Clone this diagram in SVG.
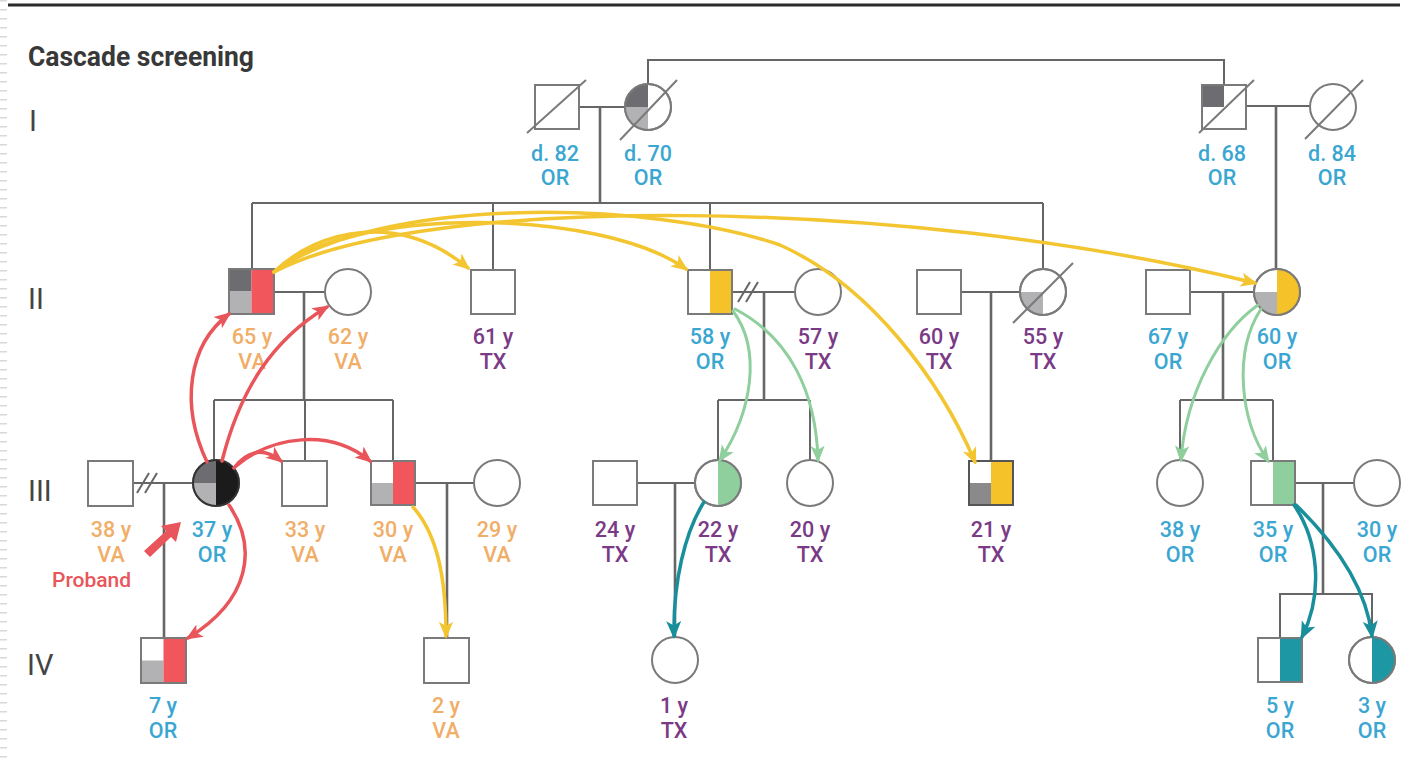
<svg xmlns="http://www.w3.org/2000/svg" width="1417" height="759" viewBox="0 0 1417 759">
  <style>
    .nd { fill: #fff; stroke: #7a7a7a; stroke-width: 2; }
    .ol { fill: none; stroke: #7a7a7a; stroke-width: 2; }
    .ln { fill: none; stroke: #666; stroke-width: 2; }
    .dl { fill: none; stroke: #666; stroke-width: 2.6; }
    .dk { fill: #6c6c71; }
    .lt { fill: #b2b2b4; }
    .md { fill: #8a8a8c; }
    .red { fill: #f0565c; }
    .yel { fill: #f5c22a; }
    .grn { fill: #8fcf9e; }
    .tea { fill: #1e97a5; }
    .blk { fill: #1b1b1b; }
    .lab { font-family: Roboto, "Liberation Sans", sans-serif; font-size: 21.5px; font-weight: 500; text-anchor: middle; }
    .or { fill: #3aa6d2; }
    .va { fill: #f0ae68; }
    .tx { fill: #7a3a86; }
    .gen { font-family: Roboto, "Liberation Sans", sans-serif; font-size: 29px; font-weight: 400; fill: #444; }
    .arr { fill: none; stroke-width: 3.5; stroke-linecap: round; }
    .ay { stroke: #f3c530; marker-end: url(#hy); }
    .ar { stroke: #e8555a; marker-end: url(#hr); }
    .ag { stroke: #8fcf9e; stroke-width: 3; marker-end: url(#hg); }
    .at { stroke: #1a8f9c; marker-end: url(#ht); }
  </style>
  <defs>
    <marker id="hy" viewBox="0 0 12 12" refX="10" refY="6" markerWidth="17" markerHeight="17" markerUnits="userSpaceOnUse" orient="auto"><path d="M0,1 L12,6 L0,11 L3,6 z" fill="#f3c530"/></marker>
    <marker id="hr" viewBox="0 0 12 12" refX="10" refY="6" markerWidth="17" markerHeight="17" markerUnits="userSpaceOnUse" orient="auto"><path d="M0,1 L12,6 L0,11 L3,6 z" fill="#e8555a"/></marker>
    <marker id="hg" viewBox="0 0 12 12" refX="10" refY="6" markerWidth="17" markerHeight="17" markerUnits="userSpaceOnUse" orient="auto"><path d="M0,1 L12,6 L0,11 L3,6 z" fill="#8fcf9e"/></marker>
    <marker id="ht" viewBox="0 0 12 12" refX="10" refY="6" markerWidth="18" markerHeight="18" markerUnits="userSpaceOnUse" orient="auto"><path d="M0,1 L12,6 L0,11 L3,6 z" fill="#1a8f9c"/></marker>
  </defs>

  <rect width="1417" height="759" fill="#fff"/>
  <!-- page edge and top rule -->
  <line x1="3.5" y1="0" x2="3.5" y2="759" stroke="#d8d8d8" stroke-width="7" stroke-dasharray="1.5 7.5"/>
  <line x1="8" y1="5" x2="1400" y2="5" stroke="#2a2a2a" stroke-width="3"/>

  <text x="28" y="66" font-family="Roboto, 'Liberation Sans', sans-serif" font-size="27" font-weight="700" fill="#383838" textLength="226" lengthAdjust="spacingAndGlyphs">Cascade screening</text>

  <!-- generation numerals -->
  <g id="generations">
    <text class="gen" x="29" y="131">I</text>
    <text class="gen" x="28" y="309">II</text>
    <text class="gen" x="28" y="501">III</text>
    <text class="gen" x="27" y="675">IV</text>
  </g>

  <!-- pedigree lines -->
  <g id="connectors">
    <!-- generation I -->
    <line class="ln" x1="579" y1="107" x2="625" y2="107"/>
    <line class="dl" x1="600" y1="107" x2="600" y2="203"/>
    <polyline class="ln" points="648,84 648,60 1224,60 1224,85"/>
    <line class="ln" x1="1246" y1="106" x2="1310" y2="106"/>
    <line class="dl" x1="1276" y1="106" x2="1276" y2="269"/>
    <!-- generation II sibship -->
    <line class="ln" x1="252" y1="203" x2="1043" y2="203"/>
    <line class="ln" x1="252" y1="203" x2="252" y2="269"/>
    <line class="ln" x1="493" y1="203" x2="493" y2="270"/>
    <line class="ln" x1="710" y1="203" x2="710" y2="270"/>
    <line class="ln" x1="1043" y1="203" x2="1043" y2="269"/>
    <!-- generation II couples -->
    <line class="ln" x1="274" y1="292" x2="325" y2="292"/>
    <line class="dl" x1="304" y1="292" x2="304" y2="400"/>
    <line class="ln" x1="732" y1="292" x2="795" y2="292"/>
    <line class="ln" x1="738" y1="302" x2="750" y2="282"/>
    <line class="ln" x1="746" y1="302" x2="758" y2="282"/>
    <line class="dl" x1="764" y1="292" x2="764" y2="400"/>
    <line class="ln" x1="961" y1="292" x2="1020" y2="292"/>
    <line class="dl" x1="991" y1="292" x2="991" y2="461"/>
    <line class="ln" x1="1190" y1="292" x2="1254" y2="292"/>
    <line class="dl" x1="1223" y1="292" x2="1223" y2="400"/>
    <!-- generation III sibships -->
    <line class="ln" x1="214" y1="400" x2="393" y2="400"/>
    <line class="ln" x1="214" y1="400" x2="214" y2="460"/>
    <line class="ln" x1="305" y1="400" x2="305" y2="461"/>
    <line class="ln" x1="393" y1="400" x2="393" y2="461"/>
    <line class="ln" x1="718" y1="400" x2="810" y2="400"/>
    <line class="ln" x1="718" y1="400" x2="718" y2="460"/>
    <line class="ln" x1="810" y1="400" x2="810" y2="460"/>
    <line class="ln" x1="1180" y1="400" x2="1273" y2="400"/>
    <line class="ln" x1="1180" y1="400" x2="1180" y2="460"/>
    <line class="ln" x1="1273" y1="400" x2="1273" y2="461"/>
    <!-- generation III couples -->
    <line class="ln" x1="133" y1="483" x2="193" y2="483"/>
    <line class="ln" x1="137" y1="493" x2="149" y2="473"/>
    <line class="ln" x1="145" y1="493" x2="157" y2="473"/>
    <line class="dl" x1="164" y1="483" x2="164" y2="638"/>
    <line class="ln" x1="415" y1="483" x2="474" y2="483"/>
    <line class="dl" x1="447" y1="483" x2="447" y2="638"/>
    <line class="ln" x1="637" y1="483" x2="695" y2="483"/>
    <line class="dl" x1="675" y1="483" x2="675" y2="637"/>
    <line class="ln" x1="1295" y1="483" x2="1354" y2="483"/>
    <line class="dl" x1="1323" y1="483" x2="1323" y2="594"/>
    <!-- generation IV sibship -->
    <polyline class="ln" points="1280,638 1280,594 1372,594 1372,637"/>
  </g>

  <!-- generation I -->
  <g id="n-I-1">
    <rect class="nd" x="535" y="85" width="44" height="44"/>
    <line class="ol" x1="527" y1="133" x2="586" y2="80"/>
    <text class="lab or" x="555" y="161">d. 82</text>
    <text class="lab or" x="555" y="185">OR</text>
  </g>
  <g id="n-I-2">
    <circle class="nd" cx="648" cy="107" r="23"/>
    <path class="dk" d="M648,107 L648,84 A23,23 0 0 0 625,107 Z"/>
    <path class="lt" d="M648,107 L625,107 A23,23 0 0 0 648,130 Z"/>
    <circle class="ol" cx="648" cy="107" r="23"/>
    <line class="ol" x1="620" y1="140" x2="677" y2="80"/>
    <text class="lab or" x="648" y="161">d. 70</text>
    <text class="lab or" x="648" y="185">OR</text>
  </g>
  <g id="n-I-3">
    <rect class="nd" x="1202" y="85" width="44" height="44"/>
    <rect class="dk" x="1202" y="85" width="22" height="22"/>
    <rect class="ol" x="1202" y="85" width="44" height="44"/>
    <line class="ol" x1="1199" y1="133" x2="1254" y2="80"/>
    <text class="lab or" x="1222" y="161">d. 68</text>
    <text class="lab or" x="1222" y="185">OR</text>
  </g>
  <g id="n-I-4">
    <circle class="nd" cx="1333" cy="107" r="23"/>
    <line class="ol" x1="1305" y1="139" x2="1363" y2="80"/>
    <text class="lab or" x="1332" y="161">d. 84</text>
    <text class="lab or" x="1332" y="185">OR</text>
  </g>

  <!-- generation II -->
  <g id="n-II-1">
    <rect class="nd" x="229" y="269" width="45" height="45"/>
    <rect class="dk" x="229" y="269" width="22.5" height="22.5"/>
    <rect class="lt" x="229" y="291.5" width="22.5" height="22.5"/>
    <rect class="red" x="251.5" y="269" width="22.5" height="45"/>
    <rect class="ol" x="229" y="269" width="45" height="45"/>
    <text class="lab va" x="252" y="344">65 y</text>
    <text class="lab va" x="252" y="369">VA</text>
  </g>
  <g id="n-II-2">
    <circle class="nd" cx="348" cy="292" r="23"/>
    <text class="lab va" x="348" y="344">62 y</text>
    <text class="lab va" x="348" y="369">VA</text>
  </g>
  <g id="n-II-3">
    <rect class="nd" x="471" y="270" width="44" height="44"/>
    <text class="lab tx" x="493" y="344">61 y</text>
    <text class="lab tx" x="493" y="369">TX</text>
  </g>
  <g id="n-II-4">
    <rect class="nd" x="688" y="270" width="44" height="44"/>
    <rect class="yel" x="710" y="270" width="22" height="44"/>
    <rect class="ol" x="688" y="270" width="44" height="44"/>
    <text class="lab or" x="710" y="344">58 y</text>
    <text class="lab or" x="710" y="369">OR</text>
  </g>
  <g id="n-II-5">
    <circle class="nd" cx="818" cy="292" r="23"/>
    <text class="lab tx" x="818" y="344">57 y</text>
    <text class="lab tx" x="818" y="369">TX</text>
  </g>
  <g id="n-II-6">
    <rect class="nd" x="917" y="270" width="44" height="44"/>
    <text class="lab tx" x="939" y="344">60 y</text>
    <text class="lab tx" x="939" y="369">TX</text>
  </g>
  <g id="n-II-7">
    <circle class="nd" cx="1043" cy="292" r="23"/>
    <path class="lt" d="M1043,292 L1020,292 A23,23 0 0 0 1043,315 Z"/>
    <circle class="ol" cx="1043" cy="292" r="23"/>
    <line class="ol" x1="1013" y1="323" x2="1073" y2="263"/>
    <text class="lab tx" x="1043" y="344">55 y</text>
    <text class="lab tx" x="1043" y="369">TX</text>
  </g>
  <g id="n-II-8">
    <rect class="nd" x="1146" y="270" width="44" height="44"/>
    <text class="lab or" x="1168" y="344">67 y</text>
    <text class="lab or" x="1168" y="369">OR</text>
  </g>
  <g id="n-II-9">
    <circle class="nd" cx="1277" cy="292" r="23"/>
    <path class="yel" d="M1277,269 A23,23 0 0 1 1277,315 Z"/>
    <path class="lt" d="M1277,292 L1254,292 A23,23 0 0 0 1277,315 Z"/>
    <circle class="ol" cx="1277" cy="292" r="23"/>
    <text class="lab or" x="1277" y="344">60 y</text>
    <text class="lab or" x="1277" y="369">OR</text>
  </g>

  <!-- generation III -->
  <g id="n-III-1">
    <rect class="nd" x="88" y="461" width="45" height="45"/>
    <text class="lab va" x="111" y="537">38 y</text>
    <text class="lab va" x="111" y="562">VA</text>
  </g>
  <g id="n-III-2">
    <circle class="nd" cx="216" cy="483" r="23"/>
    <path class="dk" d="M216,483 L216,460 A23,23 0 0 0 193,483 Z"/>
    <path class="lt" d="M216,483 L193,483 A23,23 0 0 0 216,506 Z"/>
    <path class="blk" d="M216,460 A23,23 0 0 1 216,506 Z"/>
    <circle cx="216" cy="483" r="23" fill="none" stroke="#333" stroke-width="2"/>
    <text class="lab or" x="212" y="537">37 y</text>
    <text class="lab or" x="212" y="562">OR</text>
  </g>
  <g id="n-III-3">
    <rect class="nd" x="282" y="461" width="45" height="45"/>
    <text class="lab va" x="305" y="537">33 y</text>
    <text class="lab va" x="305" y="562">VA</text>
  </g>
  <g id="n-III-4">
    <rect class="nd" x="371" y="461" width="44" height="44"/>
    <rect class="lt" x="371" y="483" width="22" height="22"/>
    <rect class="red" x="393" y="461" width="22" height="44"/>
    <rect class="ol" x="371" y="461" width="44" height="44"/>
    <text class="lab va" x="393" y="537">30 y</text>
    <text class="lab va" x="393" y="562">VA</text>
  </g>
  <g id="n-III-5">
    <circle class="nd" cx="497" cy="483" r="23"/>
    <text class="lab va" x="497" y="537">29 y</text>
    <text class="lab va" x="497" y="562">VA</text>
  </g>
  <g id="n-III-6">
    <rect class="nd" x="593" y="461" width="44" height="44"/>
    <text class="lab tx" x="615" y="537">24 y</text>
    <text class="lab tx" x="615" y="562">TX</text>
  </g>
  <g id="n-III-7">
    <circle class="nd" cx="718" cy="483" r="23"/>
    <path class="grn" d="M718,460 A23,23 0 0 1 718,506 Z"/>
    <circle class="ol" cx="718" cy="483" r="23"/>
    <text class="lab tx" x="718" y="537">22 y</text>
    <text class="lab tx" x="718" y="562">TX</text>
  </g>
  <g id="n-III-8">
    <circle class="nd" cx="810" cy="483" r="23"/>
    <text class="lab tx" x="810" y="537">20 y</text>
    <text class="lab tx" x="810" y="562">TX</text>
  </g>
  <g id="n-III-9">
    <rect class="nd" x="969" y="461" width="44" height="44"/>
    <rect class="md" x="969" y="483" width="22" height="22"/>
    <rect class="yel" x="991" y="461" width="22" height="44"/>
    <rect x="969" y="461" width="44" height="44" fill="none" stroke="#555" stroke-width="2"/>
    <text class="lab tx" x="991" y="537">21 y</text>
    <text class="lab tx" x="991" y="562">TX</text>
  </g>
  <g id="n-III-10">
    <circle class="nd" cx="1180" cy="483" r="23"/>
    <text class="lab or" x="1180" y="537">38 y</text>
    <text class="lab or" x="1180" y="562">OR</text>
  </g>
  <g id="n-III-11">
    <rect class="nd" x="1251" y="461" width="44" height="44"/>
    <rect class="grn" x="1273" y="461" width="22" height="44"/>
    <rect class="ol" x="1251" y="461" width="44" height="44"/>
    <text class="lab or" x="1273" y="537">35 y</text>
    <text class="lab or" x="1273" y="562">OR</text>
  </g>
  <g id="n-III-12">
    <circle class="nd" cx="1377" cy="483" r="23"/>
    <text class="lab or" x="1377" y="537">30 y</text>
    <text class="lab or" x="1377" y="562">OR</text>
  </g>

  <!-- generation IV -->
  <g id="n-IV-1">
    <rect class="nd" x="141" y="638" width="45" height="45"/>
    <rect class="lt" x="141" y="660.5" width="22.5" height="22.5"/>
    <rect class="red" x="163.5" y="638" width="22.5" height="45"/>
    <rect class="ol" x="141" y="638" width="45" height="45"/>
    <text class="lab or" x="163" y="713">7 y</text>
    <text class="lab or" x="163" y="738">OR</text>
  </g>
  <g id="n-IV-2">
    <rect class="nd" x="424" y="638" width="45" height="45"/>
    <text class="lab va" x="446" y="713">2 y</text>
    <text class="lab va" x="446" y="738">VA</text>
  </g>
  <g id="n-IV-3">
    <circle class="nd" cx="675" cy="660" r="23"/>
    <text class="lab tx" x="674" y="713">1 y</text>
    <text class="lab tx" x="674" y="738">TX</text>
  </g>
  <g id="n-IV-4">
    <rect class="nd" x="1258" y="638" width="44" height="44"/>
    <rect class="tea" x="1280" y="638" width="22" height="44"/>
    <rect class="ol" x="1258" y="638" width="44" height="44"/>
    <text class="lab or" x="1280" y="713">5 y</text>
    <text class="lab or" x="1280" y="738">OR</text>
  </g>
  <g id="n-IV-5">
    <circle class="nd" cx="1372" cy="660" r="23"/>
    <path class="tea" d="M1372,637 A23,23 0 0 1 1372,683 Z"/>
    <circle class="ol" cx="1372" cy="660" r="23"/>
    <text class="lab or" x="1372" y="713">3 y</text>
    <text class="lab or" x="1372" y="738">OR</text>
  </g>

  <!-- cascade testing arrows -->
  <g id="cascade">
    <path class="arr ay" d="M274,272 C320,228 400,212 468,268"/>
    <path class="arr ay" d="M274,272 C350,205 600,208 686,269"/>
    <path class="arr ay" d="M274,272 C380,195 650,200 780,245 C870,285 940,380 975,462"/>
    <path class="arr ay" d="M274,272 C420,195 900,195 1255,283"/>
    <path class="arr ay" d="M413,507 C438,535 446,580 446,636"/>

    <path class="arr ar" d="M207,462 C180,405 188,345 229,314"/>
    <path class="arr ar" d="M222,461 C240,390 272,340 327,307"/>
    <path class="arr ar" d="M234,468 C246,452 262,446 281,461"/>
    <path class="arr ar" d="M236,466 C272,436 330,428 370,461"/>
    <path class="arr ar" d="M229,505 C258,548 250,600 188,638"/>

    <path class="arr ag" d="M733,311 C762,350 752,412 720,460"/>
    <path class="arr ag" d="M735,309 C790,338 816,392 818,460"/>
    <path class="arr ag" d="M1258,305 C1220,332 1186,392 1181,460"/>
    <path class="arr ag" d="M1261,309 C1233,352 1240,420 1268,461"/>

    <path class="arr at" d="M704,502 C685,532 673,582 674,636"/>
    <path class="arr at" d="M1294,505 C1318,540 1324,592 1302,637"/>
    <path class="arr at" d="M1296,505 C1332,540 1366,585 1372,636"/>
  </g>

  <!-- proband marker -->
  <g id="proband">
    <polygon points="144,551 166,531 161,526 181,522 176,542 171,537 150,557" fill="#e8555a"/>
    <text x="52" y="587" font-family="Roboto, 'Liberation Sans', sans-serif" font-size="21" font-weight="500" fill="#e8555a">Proband</text>
  </g>
</svg>
